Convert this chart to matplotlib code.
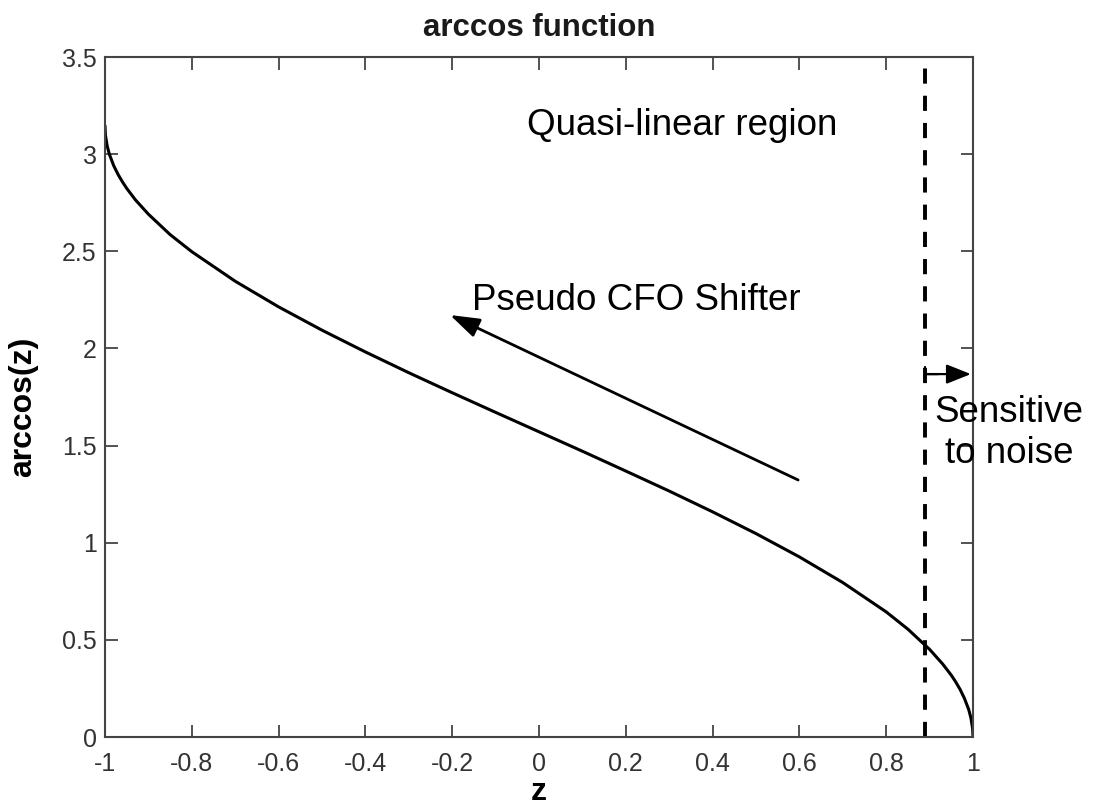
import matplotlib
matplotlib.use("Agg")
import matplotlib.pyplot as plt
from matplotlib.patches import ArrowStyle

plt.rcParams['font.family'] = ['Liberation Sans', 'DejaVu Sans']

# values
z = [-1.0, -0.999, -0.995, -0.99, -0.98, -0.97, -0.96, -0.95, -0.93, -0.9, -0.85, -0.8,
     -0.7, -0.6, -0.5, -0.4, -0.3, -0.2, -0.1, 0.0, 0.1, 0.2, 0.3, 0.4, 0.5, 0.6,
     0.7, 0.8, 0.85, 0.9, 0.93, 0.95, 0.96, 0.97, 0.98, 0.99, 0.995, 0.999, 1.0]
acos_z = [3.142, 3.097, 3.042, 3.000, 2.941, 2.896, 2.858, 2.824, 2.765, 2.691, 2.586, 2.498,
          2.346, 2.214, 2.094, 1.982, 1.875, 1.772, 1.671, 1.571, 1.471, 1.369, 1.266, 1.159, 1.047, 0.927,
          0.795, 0.644, 0.555, 0.451, 0.376, 0.318, 0.284, 0.246, 0.200, 0.142, 0.100, 0.045, 0.0]

x_ticks = [-1, -0.8, -0.6, -0.4, -0.2, 0, 0.2, 0.4, 0.6, 0.8, 1]
x_labels = ['-1', '-0.8', '-0.6', '-0.4', '-0.2', '0', '0.2', '0.4', '0.6', '0.8', '1']
y_ticks = [0, 0.5, 1, 1.5, 2, 2.5, 3, 3.5]
y_labels = ['0', '0.5', '1', '1.5', '2', '2.5', '3', '3.5']

z_split = 0.89

fig = plt.figure(figsize=(10.95, 8.10), dpi=100)
ax = fig.add_axes([0.0959, 0.0901, 0.7927, 0.8395])

ax.plot(z, acos_z, color='black', lw=2.2)
ax.axvline(z_split, color='black', lw=2.8, linestyle=(0, (3.9, 3.1)))

ax.set_xlim(-1, 1)
ax.set_ylim(0, 3.5)
ax.set_xticks(x_ticks, x_labels)
ax.set_yticks(y_ticks, y_labels)
ax.tick_params(axis='both', direction='in', length=9, width=1.3, color='#444444',
               labelsize=18, labelcolor='#333333', top=True, right=True)
ax.tick_params(axis='x', pad=11)
ax.tick_params(axis='y', pad=6)
for s in ax.spines.values():
    s.set_color('#444444')
    s.set_linewidth(1.5)

ax.set_title('arccos function', fontsize=22.5, fontweight='bold', color='#1a1a1a', pad=15)
ax.set_xlabel('z', fontsize=23, fontweight='bold', color='#000000')
ax.set_ylabel('arccos(z)', fontsize=23, fontweight='bold', color='#000000')
ax.xaxis.label.set_va('baseline')
ax.xaxis.set_label_coords(0.5, -0.092)
ax.yaxis.label.set_va('center')
ax.yaxis.set_label_coords(-0.094, 0.485)

ax.text(-0.028, 3.098, 'Quasi-linear region', fontsize=26.5, va='baseline', ha='left')
ax.text(-0.154, 2.198, 'Pseudo CFO Shifter', fontsize=26.5, va='baseline', ha='left')
ax.text(1.083, 1.565, 'Sensitive\nto noise', fontsize=26.5, va='center', ha='center',
        linespacing=1.2)

big = ArrowStyle('-|>', head_length=0.6, head_width=0.2)
ax.annotate('', xy=(-0.205, 2.172), xytext=(0.597, 1.323),
            arrowprops=dict(arrowstyle=big, mutation_scale=30, color='black', lw=2.0,
                            shrinkA=0, shrinkB=0))
small = ArrowStyle('-|>', head_length=0.5, head_width=0.2)
ax.annotate('', xy=(0.995, 1.868), xytext=(z_split, 1.868),
            arrowprops=dict(arrowstyle=small, mutation_scale=30, color='black', lw=1.6,
                            shrinkA=0, shrinkB=0), annotation_clip=False)
bar = ArrowStyle('|-|', widthA=0.35, widthB=0.0)
ax.annotate('', xy=(z_split + 0.03, 1.868), xytext=(z_split, 1.868),
            arrowprops=dict(arrowstyle=bar, mutation_scale=14, color='black', lw=1.6,
                            shrinkA=0, shrinkB=0))

fig.savefig('out.png', dpi=100)
